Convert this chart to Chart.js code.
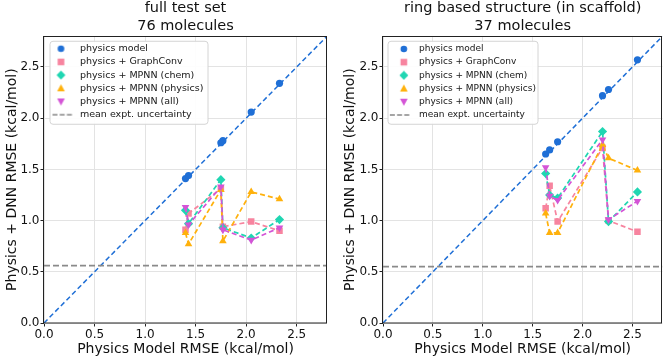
<!DOCTYPE html>
<html><head><meta charset="utf-8">
<script src="https://cdn.jsdelivr.net/npm/chart.js@4/dist/chart.umd.min.js"></script>
<style>
html,body{margin:0;padding:0;background:#fff;}
#wrap{position:relative;width:667px;height:359px;overflow:hidden;}
.p{position:absolute;top:0;height:359px;}
#pl{left:0;width:333px}
#pr{left:333px;width:334px}
</style></head><body>
<div id="wrap">
<div class="p" id="pl"><canvas id="cl" width="333" height="359"></canvas></div>
<div class="p" id="pr"><canvas id="cr" width="334" height="359"></canvas></div>
</div>
<script>
// ---------- data ----------
const seriesNames = ['physics model', 'physics + GraphConv', 'physics + MPNN (chem)', 'physics + MPNN (physics)', 'physics + MPNN (all)'];
const uncertaintyLabel = 'mean expt. uncertainty';
const xAxisTitle = 'Physics Model RMSE (kcal/mol)';
const yAxisTitle = 'Physics + DNN RMSE (kcal/mol)';
const axisMin = 0;
const axisMax = 2.8;
const tickStep = 0.5;

// left panel: full test set
const fullTitle = ['full test set', '76 molecules'];
const fullPhysicsX = [1.40, 1.43, 1.75, 1.77, 2.05, 2.33];
const fullPhysicsY = [1.41, 1.44, 1.76, 1.78, 2.06, 2.34];
const fullGraphConv = [0.91, 1.07, 1.31, 0.94, 0.99, 0.90];
const fullMpnnChem = [1.10, 0.97, 1.40, 0.93, 0.83, 1.01];
const fullMpnnPhysics = [0.88, 0.77, 1.30, 0.80, 1.28, 1.21];
const fullMpnnAll = [1.13, 0.96, 1.33, 0.91, 0.81, 0.93];
const fullUncertainty = 0.56;

// right panel: ring based structure
const ringTitle = ['ring based structure (in scaffold)', '37 molecules'];
const ringPhysicsX = [1.63, 1.67, 1.75, 2.20, 2.26, 2.55];
const ringPhysicsY = [1.65, 1.69, 1.77, 2.22, 2.28, 2.57];
const ringGraphConv = [1.12, 1.34, 0.99, 1.71, 1.00, 0.89];
const ringMpnnChem = [1.46, 1.25, 1.22, 1.87, 0.99, 1.28];
const ringMpnnPhysics = [1.07, 0.88, 0.88, 1.74, 1.61, 1.49];
const ringMpnnAll = [1.52, 1.24, 1.20, 1.79, 1.01, 1.19];
const ringUncertainty = 0.55;

// ---------- styling ----------
const FONT = "'DejaVu Sans', sans-serif";
const COL = {blue: '#1f6fd6', pink: '#f7849f', cyan: '#20d6b2', orange: '#ffb10c', magenta: '#d454d6', gray: '#8a8a8a'};
const styles = [
  {kind: 'circle', color: COL.blue, pointStyle: 'circle', radius: 3.6, rotation: 0},
  {kind: 'rect', color: COL.pink, pointStyle: 'rect', radius: 4.6, rotation: 0},
  {kind: 'rectRot', color: COL.cyan, pointStyle: 'rectRot', radius: 4.6, rotation: 0},
  {kind: 'triUp', color: COL.orange, pointStyle: 'triangle', radius: 4.4, rotation: 0},
  {kind: 'triDown', color: COL.magenta, pointStyle: 'triangle', radius: 4.4, rotation: 180}
];

function legendIcon(kind, color, w, h, cx) {
  const c = document.createElement('canvas');
  c.width = w; c.height = h;
  const g = c.getContext('2d');
  const cy = h / 2;
  g.fillStyle = color; g.strokeStyle = color;
  g.beginPath();
  if (kind === 'circle') g.arc(cx, cy, 3.3, 0, Math.PI * 2);
  else if (kind === 'rect') g.rect(cx - 3.3, cy - 3.3, 6.6, 6.6);
  else if (kind === 'rectRot') { g.moveTo(cx, cy - 4.4); g.lineTo(cx + 4.4, cy); g.lineTo(cx, cy + 4.4); g.lineTo(cx - 4.4, cy); g.closePath(); }
  else if (kind === 'triUp') { g.moveTo(cx, cy - 4); g.lineTo(cx + 3.8, cy + 3); g.lineTo(cx - 3.8, cy + 3); g.closePath(); }
  else if (kind === 'triDown') { g.moveTo(cx, cy + 4); g.lineTo(cx + 3.8, cy - 3); g.lineTo(cx - 3.8, cy - 3); g.closePath(); }
  if (kind === 'line') {
    g.setLineDash([5, 2.2]); g.lineWidth = 1.5;
    g.moveTo(cx - 10, cy); g.lineTo(cx + 10, cy); g.stroke();
  } else g.fill();
  return c;
}

function buildDatasets(px, py, gc, chem, mphys, mall, unc) {
  const pts = ys => px.map((x, i) => ({x: x, y: ys[i]}));
  const series = [py, gc, chem, mphys, mall];
  const ds = series.map((ys, i) => ({
    label: seriesNames[i],
    data: pts(ys),
    showLine: i > 0,
    borderColor: styles[i].color,
    backgroundColor: styles[i].color,
    borderWidth: 1.7,
    borderDash: [5, 3],
    pointStyle: styles[i].pointStyle,
    pointRotation: styles[i].rotation,
    pointRadius: styles[i].radius,
    pointBorderWidth: 0,
    pointHoverRadius: styles[i].radius,
    order: 10 - i
  }));
  ds.push({
    label: uncertaintyLabel,
    data: [axisMin, axisMax].map(x => ({x: x, y: unc})),
    showLine: true, borderColor: COL.gray, backgroundColor: COL.gray,
    borderWidth: 1.6, borderDash: [6, 3], pointRadius: 0, order: 1
  });
  ds.push({
    label: '_diag',
    data: [axisMin, axisMax].map(v => ({x: v, y: v})),
    showLine: true, borderColor: COL.blue, backgroundColor: COL.blue,
    borderWidth: 1.5, borderDash: [5, 3], pointRadius: 0, order: 20
  });
  return ds;
}

const framePlugin = {
  id: 'frame',
  beforeDraw(chart) {
    const L = chart.legend;
    if (L) {
      const h = L.height;
      L.top = chart.chartArea.top;
      L.bottom = L.top + h;
    }
  },
  beforeDatasetsDraw(chart, args, opts) {
    const a = chart.chartArea, g = chart.ctx;
    const b = opts.box;
    g.save();
    const x = a.left + b.dx, y = a.top + b.dy, w = b.w, h = b.h, r = 3;
    g.beginPath();
    g.moveTo(x + r, y); g.lineTo(x + w - r, y); g.quadraticCurveTo(x + w, y, x + w, y + r);
    g.lineTo(x + w, y + h - r); g.quadraticCurveTo(x + w, y + h, x + w - r, y + h);
    g.lineTo(x + r, y + h); g.quadraticCurveTo(x, y + h, x, y + h - r);
    g.lineTo(x, y + r); g.quadraticCurveTo(x, y, x + r, y); g.closePath();
    g.fillStyle = 'rgba(255,255,255,0.92)'; g.fill();
    g.strokeStyle = '#d4d4d4'; g.lineWidth = 1; g.stroke();
    g.restore();
    chart.legend.draw();
  },
  afterDraw(chart) {
    const a = chart.chartArea, g = chart.ctx;
    g.save();
    g.strokeStyle = '#222'; g.lineWidth = 1;
    g.strokeRect(Math.round(a.left) - 0.5, Math.round(a.top) + 0.5, Math.round(a.right - a.left), Math.round(a.bottom - a.top) - 0.5);
    g.restore();
  }
};

function makeChart(canvasId, titleLines, datasets, cfg) {
  const icons = styles.map(s => legendIcon(s.kind, s.color, cfg.iconW, 10, cfg.iconW / 2 + cfg.iconShift));
  icons.push(legendIcon('line', COL.gray, cfg.iconW, 10, cfg.iconW / 2 + cfg.lineShift));
  return new Chart(document.getElementById(canvasId), {
    type: 'scatter',
    data: {datasets: datasets},
    plugins: [framePlugin],
    options: {
      responsive: false,
      animation: false,
      events: [],
      layout: {padding: {left: 0, right: cfg.padRight, top: 0, bottom: 0}},
      scales: {
        x: {
          type: 'linear', min: axisMin, max: axisMax,
          ticks: {stepSize: tickStep, includeBounds: false, maxRotation: 0, padding: 1,
            callback: v => v.toFixed(1), color: '#111', font: {family: FONT, size: 12}},
          grid: {color: '#e3e3e3', tickColor: '#222', tickLength: 3.5},
          border: {display: false},
          title: {display: true, text: xAxisTitle, color: '#111', font: {family: FONT, size: 14}, padding: {top: 0, bottom: 1}},
          afterFit: s => { s.height = 36; }
        },
        y: {
          type: 'linear', min: axisMin, max: axisMax,
          ticks: {stepSize: tickStep, includeBounds: false, padding: 1,
            callback: v => v.toFixed(1), color: '#111', font: {family: FONT, size: 12}},
          grid: {color: '#e3e3e3', tickColor: '#222', tickLength: 3.5},
          border: {display: false},
          title: {display: true, text: yAxisTitle, color: '#111', font: {family: FONT, size: 14}, padding: {top: cfg.yTitlePad, bottom: 0}},
          afterFit: s => { s.width = cfg.yWidth; }
        }
      },
      plugins: {
        tooltip: {enabled: false},
        frame: {box: cfg.box},
        title: {
          display: true, text: titleLines, fullSize: false, color: '#111',
          font: {family: FONT, size: 14.5, weight: 'normal', lineHeight: 1.25},
          padding: {top: -1, bottom: 1}
        },
        legend: {
          display: true, position: 'chartArea', align: 'start',
          title: {display: true, text: '', font: {size: 4, lineHeight: 1}, padding: 0},
          labels: {
            usePointStyle: true, pointStyleWidth: cfg.boxW, boxHeight: 8,
            padding: cfg.pad, color: '#222', font: {family: FONT, size: cfg.font},
            filter: item => item.text !== '_diag',
            sort: (a, b) => a.datasetIndex - b.datasetIndex,
            generateLabels: chart => {
              const items = Chart.defaults.plugins.legend.labels.generateLabels(chart);
              items.forEach(it => {
                it.pointStyle = icons[it.datasetIndex] || it.pointStyle;
                it.rotation = 0;
                it.lineDash = [];
              });
              return items;
            }
          }
        }
      }
    }
  });
}

makeChart('cl', fullTitle,
  buildDatasets(fullPhysicsX, fullPhysicsY, fullGraphConv, fullMpnnChem, fullMpnnPhysics, fullMpnnAll, fullUncertainty),
  {yWidth: 44, padRight: 6, yTitlePad: 4, font: 9.5, pad: 3.7, boxW: 27.5, iconW: 26, iconShift: -0.5, lineShift: 1,
   box: {dx: 6, dy: 5, w: 158, h: 83}});
makeChart('cr', ringTitle,
  buildDatasets(ringPhysicsX, ringPhysicsY, ringGraphConv, ringMpnnChem, ringMpnnPhysics, ringMpnnAll, ringUncertainty),
  {yWidth: 50, padRight: 2, yTitlePad: 9, font: 9, pad: 4.2, boxW: 27.3, iconW: 26, iconShift: 3, lineShift: -1,
   box: {dx: 5, dy: 5, w: 150, h: 83}});
</script>
</body></html>
